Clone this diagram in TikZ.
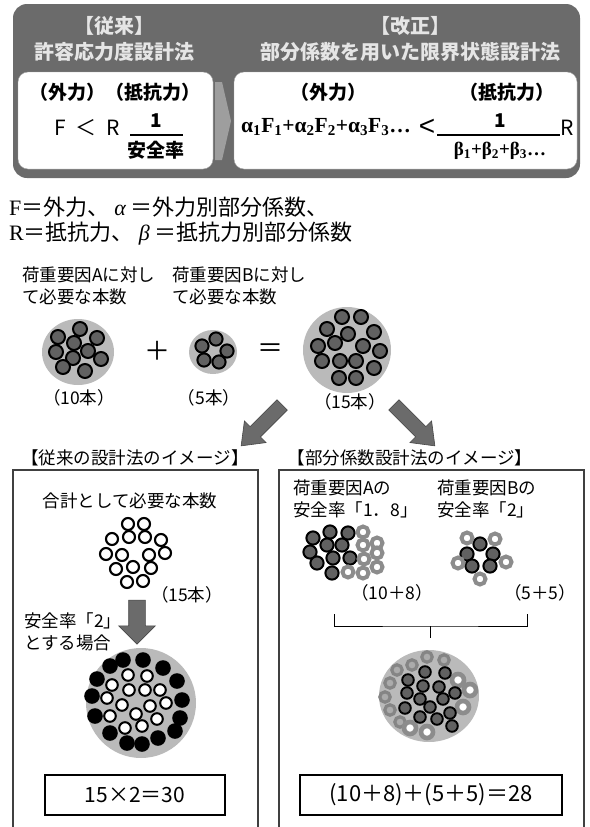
\documentclass[tikz,border=0pt]{standalone}
\usepackage{fontspec}
\setmainfont{Liberation Serif}
\setsansfont{Liberation Sans}
\newfontfamily\jp{Noto Sans CJK JP}
\usetikzlibrary{shapes.arrows,shapes.geometric}

\begin{document}
\begin{tikzpicture}[x=1pt,y=-1pt,
  every node/.style={inner sep=0pt},
  head/.style={font=\jp\bfseries\fontsize{20}{22}\selectfont, text=black!10},
  formtxt/.style={font=\jp\bfseries\fontsize{19}{21}\selectfont},
  legend/.style={font=\jp\fontsize{22}{24}\selectfont, anchor=west},
  lbl/.style={font=\jp\fontsize{17.5}{22}\selectfont},
  whitebox/.style={fill=white, draw=black!35, rounded corners=10pt},
  disc/.style={ellipse, fill=black!27},
  frame/.style={draw=black!75, line width=1.6pt},
  fatarrow/.style={single arrow, fill=black!58, draw=black!72, line width=0.6pt,
    inner xsep=0pt, inner ysep=7pt, minimum height=58pt,
    single arrow head extend=8pt, single arrow tip angle=75},
  wire/.style={fill=black!62, draw=black, line width=2pt},
  ring/.style={fill=white, draw=black, line width=2.1pt},
  solid dot/.style={fill=black},
  gray ring/.style={fill=white, draw=black!45, line width=4pt},
  pale ring/.style={fill=black!33, draw=black!48, line width=3.2pt},
]
\useasboundingbox (0,0) rectangle (589,827);

% --- top panel ---
\fill[black!58, rounded corners=14pt] (13,4) rectangle (580,178);
\node[head] (oldT) at (114,26) {【従来】};
\node[head] (oldN) at (114,52) {許容応力度設計法};
\node[head] (newT) at (410,26) {【改正】};
\node[head] (newN) at (410,52) {部分係数を用いた限界状態設計法};
\draw[whitebox] (18,72) rectangle (213,169);
\draw[whitebox] (234,72) rectangle (577,169);
\fill[black!38] (215,82) -- (222,82) -- (231,121) -- (222,160) -- (215,160) -- cycle;

\node[formtxt] (oldLoad) at (115,92) {（外力）（抵抗力）};
\node[font=\jp\fontsize{21}{22}\selectfont] (oldF) at (60,128) {F};
\node[font=\jp\fontsize{21}{22}\selectfont] (oldLt) at (86,128) {＜};
\node[font=\jp\fontsize{21}{22}\selectfont] (oldR) at (113,128) {R};
\node[formtxt] (oldOne) at (156,121) {1};
\node[formtxt] (oldSf) at (156,150) {安全率};
\draw[line width=1.4pt] (130,135) -- (183,135);

\node[formtxt] (newLoad) at (328,92) {（外力）};
\node[formtxt] (newRes) at (507,92) {（抵抗力）};
\node[font=\rmfamily\bfseries\fontsize{21.5}{23}\selectfont] (newF) at (326,127)
  {α\textsubscript{1}F\textsubscript{1}+α\textsubscript{2}F\textsubscript{2}+α\textsubscript{3}F\textsubscript{3}…};
\node[font=\sffamily\fontsize{28}{28}\selectfont] (newLt) at (427,127) {<};
\node[formtxt] (newOne) at (500,121) {1};
\draw[line width=1.4pt] (437,135) -- (560,135);
\node[font=\rmfamily\bfseries\fontsize{19}{21}\selectfont] (newB) at (500,151)
  {β\textsubscript{1}+β\textsubscript{2}+β\textsubscript{3}…};
\node[font=\jp\fontsize{21}{22}\selectfont] (newR) at (567,128) {R};

% --- legend ---
\node[legend] (legF) at (9,207) {{\rmfamily F}＝外力、 {\rmfamily\itshape α} ＝外力別部分係数、};
\node[legend] (legR) at (9,234) {{\rmfamily R}＝抵抗力、 {\rmfamily\itshape β} ＝抵抗力別部分係数};

% --- bundles ---
\node[lbl, anchor=west, align=left] (needA) at (22,286) {荷重要因Aに対し\\て必要な本数};
\node[lbl, anchor=west, align=left] (needB) at (172,286) {荷重要因Bに対し\\て必要な本数};

\node[disc, minimum width=72pt, minimum height=66pt] (bunA) at (78,352) {};
\foreach \dx/\dy in {2/-23, -20/-15, 19/-14, -4/-9, -22/0, 10/-1, -5/6, 23/7, -15/15, 7/19}
  \draw[wire] ([shift={(\dx,\dy)}]bunA.center) circle (7pt);
\node[font=\jp\fontsize{26}{26}\selectfont] (plus) at (157,351) {＋};
\node[disc, minimum width=48pt, minimum height=44pt] (bunB) at (213,352) {};
\foreach \dx/\dy in {3/-13, -11/-6, 14/-1, -9/8, 6/10}
  \draw[wire] ([shift={(\dx,\dy)}]bunB.center) circle (6.6pt);
\node[font=\jp\fontsize{26}{26}\selectfont] (equal) at (270,351) {＝};
\node[disc, minimum width=88pt, minimum height=86pt] (bunC) at (347,350) {};
\foreach \dx/\dy in {-5/-33, 14/-33, -20/-21, 1/-16, 27/-18, -29/-4, -12/-7, 16/-4,
                     33/1, -25/11, -7/11, 9/11, 27/18, -8/28, 9/28}
  \draw[wire] ([shift={(\dx,\dy)}]bunC.center) circle (7pt);
\node[lbl] (cntA) at (79,398) {（10本）};
\node[lbl] (cntB) at (209,398) {（5本）};
\node[lbl] (cntC) at (350,402) {（15本）};

\node[fatarrow, rotate=-135] (toOld) at (265,422) {};
\node[fatarrow, rotate=-45] (toNew) at (411,422) {};

% --- left panel: conventional ---
\node[lbl] (oldHead) at (135,458) {【従来の設計法のイメージ】};
\draw[frame] (13,830) -- (13,470) -- (258,470) -- (258,830);
\node[lbl] (total) at (130,501) {合計として必要な本数};
\coordinate (open15) at (136,553);
\foreach \dx/\dy in {-8/-29, 8/-29, -24/-14, -7/-16, 9/-16, 25/-13, -30/1, -14/2, 13/2, 29/0,
                     -20/16, -3/14, 15/15, -9/29, 7/28}
  \draw[ring] ([shift={(\dx,\dy)}]open15) circle (6pt);
\node[lbl] (cnt15) at (187,595) {（15本）};
\node[fatarrow, rotate=-90, minimum height=44pt, inner ysep=8pt,
  single arrow head extend=10pt, single arrow tip angle=90] (double) at (137,618) {};
\node[lbl, anchor=west, align=left] (sf2) at (24,632) {安全率「2」\\とする場合};
\node[disc, minimum width=110pt, minimum height=110pt] (bun30) at (141,703) {};
\foreach \dx/\dy in {-18/-43, 2/-43, 22/-35, -31/-37, -44/-24, 36/-22, -49/-7, 41/-3,
                     -46/13, 39/15, -31/30, 34/28, -14/40, 1/41, 17/35}
  \fill[solid dot] ([shift={(\dx,\dy)}]bun30.center) circle (7.8pt);
\foreach \dx/\dy in {-13/-28, 6/-27, -29/-18, -12/-13, 4/-13, 19/-13, -34/-5, -19/2, 9/3,
                     25/0, -31/13, -5/11, 16/16, -16/25, 1/23}
  \draw[ring, line width=2pt] ([shift={(\dx,\dy)}]bun30.center) circle (5.8pt);
\node[draw, line width=1.2pt, minimum width=180pt, minimum height=40pt,
  font=\jp\fontsize{21}{22}\selectfont] (oldSum) at (135,795) {15×2＝30};

% --- right panel: partial factors ---
\node[lbl] (newHead) at (410,458) {【部分係数設計法のイメージ】};
\draw[frame] (279,830) -- (279,470) -- (584,470) -- (584,830);
\node[lbl, anchor=west, align=left] (sfA) at (293,499) {荷重要因Aの\\安全率「1．8」};
\node[lbl, anchor=west, align=left] (sfB) at (437,499) {荷重要因Bの\\安全率「2」};
\coordinate (grpA) at (343,552);
\foreach \dx/\dy in {-13/-20, 5/-19, -30/-14, -16/-7, -1/-7, -33/0, -10/6, 7/6, -26/11, -11/21}
  \draw[wire] ([shift={(\dx,\dy)}]grpA) circle (6.6pt);
\foreach \dx/\dy in {20/-20, 20/-7, 34/-9, 34/1, 21/7, 5/20, 20/21, 34/15}
  \draw[gray ring] ([shift={(\dx,\dy)}]grpA) circle (5.5pt);
\coordinate (grpB) at (482,559);
\foreach \dx/\dy in {-2/-15, -15/-5, 11/-5, -10/7, 8/7}
  \draw[wire] ([shift={(\dx,\dy)}]grpB) circle (6.6pt);
\foreach \dx/\dy in {-15/-21, 13/-20, -24/4, 24/3, -2/20}
  \draw[gray ring] ([shift={(\dx,\dy)}]grpB) circle (5.5pt);
\node[lbl] (cntAB) at (392,593) {（10＋8）};
\node[lbl] (cntBB) at (540,593) {（5＋5）};
\coordinate (brL) at (334,614);
\coordinate (brR) at (527,614);
\coordinate (brM) at (430,626);
\coordinate (brD) at (430,638);
\draw[line width=0.8pt] (brL) |- (brM) -| (brR);
\draw[line width=0.8pt] (brM) -- (brD);
\node[disc, minimum width=100pt, minimum height=92pt] (bun28) at (429,696) {};
\foreach \dx/\dy in {-2/-39, 15/-36, -17/-31, -32/-26, -39/-13, -44/1, -39/14, -29/26}
  \draw[pale ring] ([shift={(\dx,\dy)}]bun28.center) circle (5.2pt);
\foreach \dx/\dy in {29/-16, 41/-6, 34/11, -19/32, -2/36}
  \draw[gray ring, line width=4.6pt] ([shift={(\dx,\dy)}]bun28.center) circle (6pt);
\foreach \dx/\dy in {-4/-24, 16/-23, -21/-16, -6/-10, 10/-9, 26/-3, -22/-3, -9/3, 14/3,
                     1/11, -24/12, 21/17, -9/21, 8/23, 23/30}
  \draw[wire, line width=1.9pt] ([shift={(\dx,\dy)}]bun28.center) circle (5.8pt);
\node[draw, line width=1.2pt, minimum width=262pt, minimum height=40pt,
  font=\jp\fontsize{22}{22}\selectfont] (newSum) at (431,795) {(10＋8)＋(5＋5)＝28};
\end{tikzpicture}
\end{document}
